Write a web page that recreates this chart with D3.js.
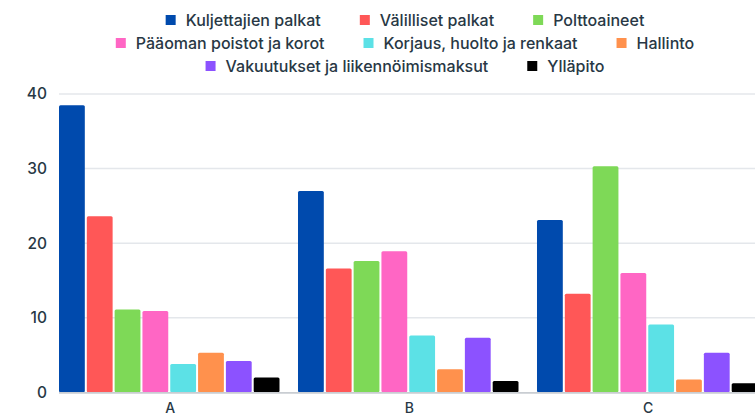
<!DOCTYPE html>
<html lang="fi">
<head>
    <meta charset="UTF-8">
    <title>Kustannusrakenne</title>
    <script src="https://d3js.org/d3.v7.min.js"></script>
    <style>
        body { margin: 0; background: #fff; }
        text { font-family: Inter, "Noto Sans", sans-serif; fill: #283845; }
    </style>
</head>
<body>
    <div id="chart-container"></div>

    <script>
        // categories and series
        const categories = ["A", "B", "C"];
        const seriesNames = [
            "Kuljettajien palkat", "Välilliset palkat", "Polttoaineet",
            "Pääoman poistot ja korot", "Korjaus, huolto ja renkaat", "Hallinto",
            "Vakuutukset ja liikennöimismaksut", "Ylläpito"
        ];
        const seriesColors = ["#004aad", "#ff5757", "#7ed957", "#ff66c4", "#5ce1e6", "#ff914d", "#8c52ff", "#000000"];

        // values per series, in order A, B, C
        const kuljettajienPalkat = [38.5, 27.0, 23.1];
        const valillisetPalkat = [23.6, 16.6, 13.2];
        const polttoaineet = [11.1, 17.6, 30.3];
        const paaomanPoistot = [10.9, 18.9, 16.0];
        const korjausHuolto = [3.8, 7.6, 9.1];
        const hallinto = [5.3, 3.1, 1.7];
        const vakuutukset = [4.2, 7.3, 5.3];
        const yllapito = [2.0, 1.5, 1.2];
        const yTicks = [0, 10, 20, 30, 40];

        const seriesValues = [kuljettajienPalkat, valillisetPalkat, polttoaineet, paaomanPoistot,
            korjausHuolto, hallinto, vakuutukset, yllapito];

        const legendRows = [[0, 1, 2], [3, 4, 5], [6, 7]];

        const containerWidth = 755;
        const containerHeight = 415;

        const svg = d3.select("#chart-container")
            .append("svg")
            .attr("width", containerWidth)
            .attr("height", containerHeight);

        // group scale (plot runs a bit past the right edge, like the original)
        const x0 = d3.scaleBand()
            .domain(categories)
            .range([59, 759.5])
            .paddingInner(0.069)
            .paddingOuter(0);

        const x1 = d3.scaleBand()
            .domain(d3.range(seriesNames.length))
            .range([0, x0.bandwidth()]);

        const y = d3.scaleLinear()
            .domain([0, 40])
            .range([392.3, 94]);

        // gridlines
        svg.append("g")
            .selectAll("line")
            .data(yTicks.filter(t => t > 0))
            .enter()
            .append("line")
            .attr("x1", 59)
            .attr("x2", containerWidth)
            .attr("y1", d => y(d))
            .attr("y2", d => y(d))
            .style("stroke", "#e4e7eb")
            .style("stroke-width", 1.5);

        // y tick labels
        svg.append("g")
            .selectAll("text")
            .data(yTicks)
            .enter()
            .append("text")
            .attr("x", 47)
            .attr("y", d => y(d))
            .attr("dy", "0.35em")
            .attr("text-anchor", "end")
            .style("font-size", "15.5px")
            .style("font-weight", 500)
            .text(d => d);

        // bars
        const rows = categories.map((c, i) => ({
            cat: c,
            vals: seriesValues.map((s, k) => ({ k: k, v: s[i] }))
        }));

        const groups = svg.append("g")
            .selectAll("g")
            .data(rows)
            .enter()
            .append("g")
            .attr("transform", d => `translate(${x0(d.cat)},0)`);

        groups.selectAll("rect")
            .data(d => d.vals)
            .enter()
            .append("rect")
            .attr("x", d => x1(d.k))
            .attr("width", x1.bandwidth() - 2)
            .attr("y", d => y(d.v))
            .attr("height", d => y(0) - y(d.v))
            .attr("rx", 1.5)
            .style("fill", d => seriesColors[d.k]);

        // baseline
        svg.append("line")
            .attr("x1", 59)
            .attr("x2", containerWidth)
            .attr("y1", y(0) + 0.6)
            .attr("y2", y(0) + 0.6)
            .style("stroke", "#c9cdd2")
            .style("stroke-width", 1.8);

        // category labels
        svg.append("g")
            .selectAll("text")
            .data(categories)
            .enter()
            .append("text")
            .attr("x", d => x0(d) + x0.bandwidth() / 2)
            .attr("y", 408)
            .attr("dy", "0.35em")
            .attr("text-anchor", "middle")
            .style("font-size", "14px")
            .style("font-weight", 500)
            .text(d => d);

        // legend, rows centered over the plot
        const legendCenter = 405;
        const rowY = [20, 43, 66];
        legendRows.forEach((row, r) => {
            const g = svg.append("g");
            let cx = 0;
            row.forEach(k => {
                g.append("rect")
                    .attr("x", cx)
                    .attr("y", rowY[r] - 5)
                    .attr("width", 10)
                    .attr("height", 10)
                    .style("fill", seriesColors[k]);
                const t = g.append("text")
                    .attr("x", cx + 20)
                    .attr("y", rowY[r])
                    .attr("dy", "0.35em")
                    .style("font-size", "16px")
                    .style("font-weight", 500)
                    .text(seriesNames[k]);
                cx += 20 + t.node().getComputedTextLength() + 39;
            });
            const total = cx - 39;
            g.attr("transform", `translate(${legendCenter - total / 2},0)`);
        });
    </script>
</body>
</html>
